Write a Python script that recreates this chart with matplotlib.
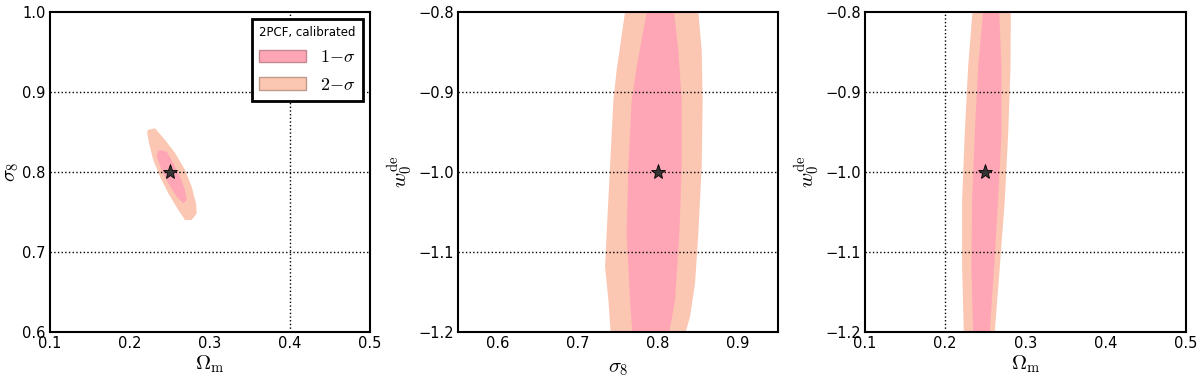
import numpy as np
import matplotlib
matplotlib.use("Agg")
import matplotlib.pyplot as plt
from matplotlib.patches import Patch

plt.rcParams['mathtext.fontset'] = 'cm'
plt.rcParams['font.family'] = ['DejaVu Sans']

# ---- data: contour outlines (x, y in data units) ----
# Panel 1: Omega_m vs sigma_8
p1_2s_x = [0.2221, 0.2313, 0.2438, 0.2563, 0.2688, 0.2771, 0.2825, 0.2834, 0.2771,
           0.2688, 0.2604, 0.2479, 0.2375, 0.2291, 0.2238, 0.2216]
p1_2s_y = [0.8525, 0.8546, 0.8400, 0.8238, 0.8025, 0.7816, 0.7609, 0.7484, 0.7400,
           0.7400, 0.7525, 0.7734, 0.7941, 0.8150, 0.8359, 0.8484]
p1_1s_x = [0.2375, 0.2459, 0.2541, 0.2625, 0.2688, 0.2709, 0.2666, 0.2584, 0.2479,
           0.2396, 0.2334, 0.2346]
p1_1s_y = [0.8275, 0.8254, 0.8109, 0.7941, 0.7775, 0.7650, 0.7609, 0.7691, 0.7859,
           0.8025, 0.8191, 0.8254]

# Panel 2: sigma_8 vs w0 (left and right edges at given w0 values)
p2_2s_left_x = [0.7588, 0.7483, 0.7442, 0.7400, 0.7358, 0.7338, 0.7380, 0.7408]
p2_2s_left_y = [-0.800, -0.873, -0.911, -0.994, -1.077, -1.1185, -1.160, -1.200]
p2_2s_right_x = [0.8504, 0.8546, 0.8558, 0.8546, 0.8504, 0.8463, 0.8400, 0.8346]
p2_2s_right_y = [-0.800, -0.848, -0.911, -0.994, -1.077, -1.139, -1.181, -1.200]
p2_1s_left_x = [0.7858, 0.7733, 0.7671, 0.7629, 0.7608, 0.7650, 0.7679]
p2_1s_left_y = [-0.800, -0.869, -0.911, -0.994, -1.077, -1.160, -1.200]
p2_1s_right_x = [0.8200, 0.8254, 0.8296, 0.8296, 0.8267, 0.8213, 0.8142]
p2_1s_right_y = [-0.800, -0.848, -0.911, -0.994, -1.077, -1.160, -1.200]

# Panel 3: Omega_m vs w0
p3_y = [-0.800, -0.869, -0.952, -1.035, -1.1185, -1.200]
p3_2s_left_x = [0.2339, 0.2285, 0.2243, 0.2210, 0.2210, 0.2231]
p3_2s_right_x = [0.2817, 0.2813, 0.2784, 0.2742, 0.2680, 0.2617]
p3_1s_left_x = [0.2472, 0.2410, 0.2368, 0.2335, 0.2326, 0.2347]
p3_1s_right_x = [0.2672, 0.2701, 0.2701, 0.2659, 0.2609, 0.2555]

fiducial_om = 0.25
fiducial_s8 = 0.8
fiducial_w0 = -1.0

c1 = '#ffa6b6'
c2 = '#fbc6b2'

fig = plt.figure(figsize=(12, 3.78), dpi=100)
W, H = 1200, 378
def add_ax(l, r, t, b):
    return fig.add_axes([l / W, 1 - b / H, (r - l) / W, (b - t) / H])

ax1 = add_ax(50, 370, 12, 332)
ax2 = add_ax(458, 778, 12, 332)
ax3 = add_ax(865, 1186, 12, 332)

def band(ax, lx, ly, rx, ry, color):
    xs = list(lx) + list(rx)[::-1]
    ys = list(ly) + list(ry)[::-1]
    ax.fill(xs, ys, color=color, lw=0, zorder=1)

# Panel 1
ax1.fill(p1_2s_x, p1_2s_y, color=c2, lw=0, zorder=1)
ax1.fill(p1_1s_x, p1_1s_y, color=c1, lw=0, zorder=2)
ax1.set_xlim(0.1, 0.5)
ax1.set_ylim(0.6, 1.0)
ax1.set_xticks([0.1, 0.2, 0.3, 0.4, 0.5])
ax1.set_yticks([0.6, 0.7, 0.8, 0.9, 1.0])
ax1.set_xlabel(r'$\Omega_{\rm m}$', fontsize=15, labelpad=2)
ax1.set_ylabel(r'$\sigma_8$', fontsize=15, labelpad=1)
ax1.axvline(0.4, color='k', ls=':', lw=1, zorder=3)
for v in [0.7, 0.8, 0.9]:
    ax1.axhline(v, color='k', ls=':', lw=1, zorder=3)
ax1.plot([fiducial_om], [fiducial_s8], marker='*', ms=11, color='#333333', mec='k', mew=0.6, zorder=5)
leg = ax1.legend(handles=[Patch(facecolor=c1, edgecolor='#c58890', label=r'$1{-}\sigma$'),
                          Patch(facecolor=c2, edgecolor='#c09a8a', label=r'$2{-}\sigma$')],
                 title='2PCF, calibrated', loc='upper right', fontsize=13, title_fontsize=8.5,
                 fancybox=False, edgecolor='k', framealpha=1, handlelength=2.6,
                 borderaxespad=0.4, labelspacing=0.5)
leg.get_frame().set_linewidth(2)
leg.set_zorder(10)

# Panel 2
band(ax2, p2_2s_left_x, p2_2s_left_y, p2_2s_right_x, p2_2s_right_y, c2)
band(ax2, p2_1s_left_x, p2_1s_left_y, p2_1s_right_x, p2_1s_right_y, c1)
ax2.set_xlim(0.55, 0.95)
ax2.set_ylim(-1.2, -0.8)
ax2.set_xticks([0.6, 0.7, 0.8, 0.9])
ax2.set_yticks([-1.2, -1.1, -1.0, -0.9, -0.8])
ax2.set_xlabel(r'$\sigma_8$', fontsize=15, labelpad=5)
ax2.set_ylabel(r'$w_0^{\rm de}$', fontsize=15, labelpad=2)
for v in [-0.9, -1.0, -1.1]:
    ax2.axhline(v, color='k', ls=':', lw=1, zorder=3)
ax2.plot([fiducial_s8], [fiducial_w0], marker='*', ms=11, color='#333333', mec='k', mew=0.6, zorder=5)

# Panel 3
band(ax3, p3_2s_left_x, p3_y, p3_2s_right_x, p3_y, c2)
band(ax3, p3_1s_left_x, p3_y, p3_1s_right_x, p3_y, c1)
ax3.set_xlim(0.1, 0.5)
ax3.set_ylim(-1.2, -0.8)
ax3.set_xticks([0.1, 0.2, 0.3, 0.4, 0.5])
ax3.set_yticks([-1.2, -1.1, -1.0, -0.9, -0.8])
ax3.set_xlabel(r'$\Omega_{\rm m}$', fontsize=15, labelpad=2)
ax3.set_ylabel(r'$w_0^{\rm de}$', fontsize=15, labelpad=2)
ax3.axvline(0.2, color='k', ls=':', lw=1, zorder=3)
for v in [-0.9, -1.0, -1.1]:
    ax3.axhline(v, color='k', ls=':', lw=1, zorder=3)
ax3.plot([fiducial_om], [fiducial_w0], marker='*', ms=11, color='#333333', mec='k', mew=0.6, zorder=5)

for ax in (ax1, ax2, ax3):
    for s in ax.spines.values():
        s.set_linewidth(1.5)
        s.set_zorder(6)
    ax.tick_params(length=0, labelsize=10.5, pad=3)

fig.savefig('out.png', dpi=100)
